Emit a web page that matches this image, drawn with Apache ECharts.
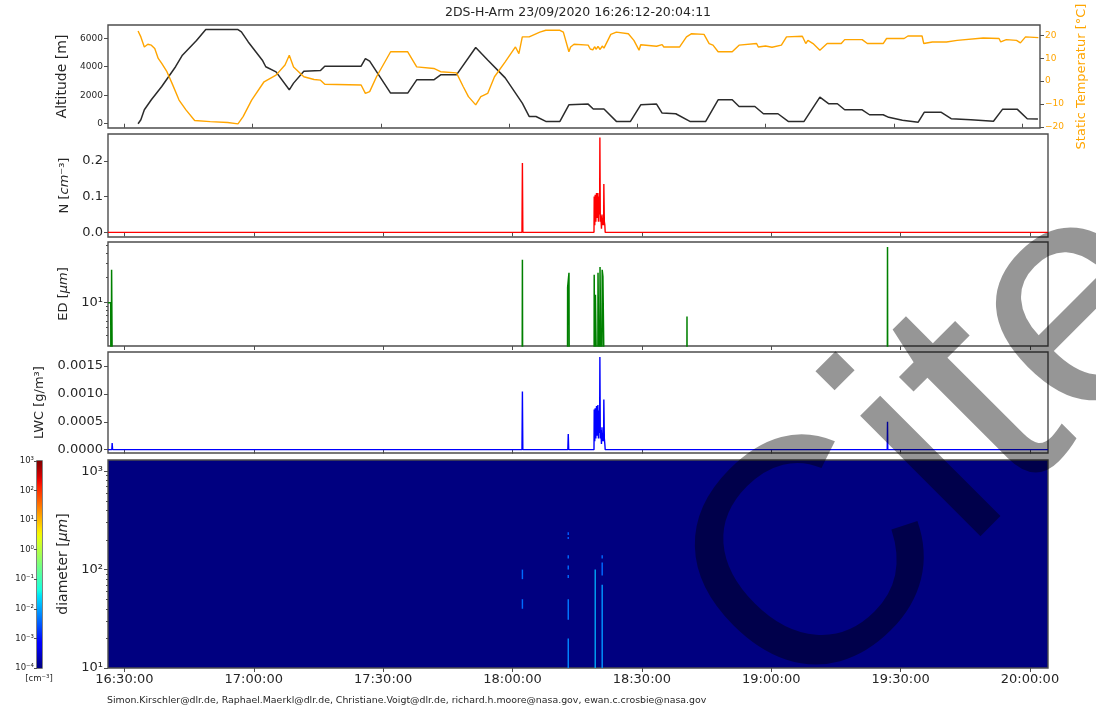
<!DOCTYPE html>
<html>
<head>
<meta charset="utf-8">
<script src="https://cdn.jsdelivr.net/npm/echarts@6/dist/echarts.min.js"></script>
<style>
  html, body { margin: 0; padding: 0; background: #ffffff; }
  #chart { width: 1096px; height: 711px; }
</style>
</head>
<body>
<div id="chart"></div>
<script>
// ---- flight time window and tick marks ----
const TIME_START = '16:26:12';
const TIME_END = '20:04:11';
const TIME_TICKS = ['16:30:00', '17:00:00', '17:30:00', '18:00:00', '18:30:00', '19:00:00', '19:30:00', '20:00:00'];

// ---- aircraft altitude [m] ----
const ALTITUDE = [
  ['16:33:14', 0], ['16:33:53', 280], ['16:34:42', 980], ['16:36:20', 1680], ['16:38:46', 2615],
  ['16:42:00', 4000], ['16:43:36', 4810], ['16:46:54', 5840], ['16:49:04', 6610], ['16:56:36', 6610],
  ['16:57:24', 6450], ['16:59:00', 5740], ['17:02:18', 4460], ['17:03:06', 4000], ['17:05:30', 3640],
  ['17:08:36', 2380], ['17:09:36', 2850], ['17:12:00', 3690], ['17:15:54', 3740], ['17:16:54', 4040],
  ['17:25:24', 4040], ['17:26:24', 4570], ['17:27:24', 4390], ['17:32:18', 2150], ['17:36:18', 2150],
  ['17:38:24', 3080], ['17:42:24', 3080], ['17:44:00', 3430], ['17:47:42', 3430], ['17:52:12', 5350],
  ['17:55:00', 4480], ['17:59:06', 3220], ['18:03:06', 1450], ['18:04:42', 510], ['18:06:18', 510],
  ['18:08:36', 163], ['18:11:54', 163], ['18:14:00', 1330], ['18:18:30', 1378], ['18:19:42', 1030],
  ['18:22:12', 1030], ['18:25:06', 163], ['18:28:24', 163], ['18:30:48', 1330], ['18:34:30', 1378],
  ['18:35:48', 750], ['18:39:00', 700], ['18:42:18', 163], ['18:46:00', 163], ['18:48:54', 1680],
  ['18:52:12', 1680], ['18:53:48', 1210], ['18:57:30', 1210], ['18:59:30', 700], ['19:02:54', 700],
  ['19:05:18', 163], ['19:09:00', 163], ['19:12:42', 1870], ['19:14:48', 1400], ['19:16:48', 1400],
  ['19:18:30', 980], ['19:22:36', 980], ['19:24:18', 630], ['19:27:30', 630], ['19:28:48', 450],
  ['19:32:00', 240], ['19:35:42', 110], ['19:37:06', 800], ['19:41:06', 800], ['19:43:24', 353],
  ['19:48:00', 282], ['19:53:18', 170], ['19:55:24', 1010], ['19:58:54', 1010], ['20:01:12', 353],
  ['20:03:42', 340]
];

// ---- static air temperature [°C] ----
const TEMPERATURE = [
  ['16:33:14', 21.9], ['16:33:53', 19.3], ['16:34:42', 14.9], ['16:35:31', 16.1], ['16:36:20', 15.7],
  ['16:37:08', 14.2], ['16:37:57', 9.9], ['16:38:46', 7.7], ['16:39:59', 4.1], ['16:41:11', -1.0],
  ['16:42:49', -8.3], ['16:44:26', -12.6], ['16:46:28', -17.2], ['16:50:06', -17.7], ['16:54:12', -18.1],
  ['16:56:36', -18.7], ['16:57:48', -15.5], ['16:59:48', -8.3], ['17:02:42', -0.3], ['17:05:30', 2.6],
  ['17:07:36', 7.0], ['17:08:36', 11.3], ['17:09:36', 6.2], ['17:12:00', 1.9], ['17:14:24', 0.7],
  ['17:15:54', 0.4], ['17:16:54', -1.4], ['17:25:24', -1.7], ['17:26:24', -5.4], ['17:27:24', -4.6],
  ['17:29:00', 1.9], ['17:32:18', 12.8], ['17:36:18', 12.8], ['17:38:24', 6.2], ['17:42:24', 5.5],
  ['17:44:00', 4.1], ['17:47:42', 3.6], ['17:49:18', -2.5], ['17:50:30', -6.8], ['17:52:12', -10.4],
  ['17:53:24', -6.8], ['17:55:00', -5.4], ['17:56:36', 1.9], ['17:59:06', 8.4], ['18:01:30', 14.9],
  ['18:02:18', 12.0], ['18:03:06', 19.3], ['18:04:42', 19.3], ['18:05:30', 20.0], ['18:07:12', 21.4],
  ['18:08:36', 22.2], ['18:11:54', 22.2], ['18:12:42', 21.4], ['18:14:00', 12.8], ['18:14:24', 14.9],
  ['18:15:12', 16.1], ['18:18:30', 15.7], ['18:19:00', 14.0], ['18:19:18', 14.6], ['18:19:36', 13.6],
  ['18:20:00', 15.0], ['18:20:24', 13.9], ['18:20:48', 15.2], ['18:21:18', 13.8], ['18:21:48', 15.3],
  ['18:22:12', 14.4], ['18:22:36', 14.9], ['18:23:48', 20.4], ['18:25:06', 21.4], ['18:27:54', 20.7],
  ['18:29:12', 17.8], ['18:30:24', 13.5], ['18:30:48', 15.9], ['18:34:30', 15.2], ['18:35:48', 15.9],
  ['18:36:12', 14.9], ['18:39:54', 14.9], ['18:41:30', 19.3], ['18:42:42', 20.7], ['18:45:36', 20.4],
  ['18:46:48', 16.4], ['18:47:42', 15.7], ['18:48:54', 12.8], ['18:52:12', 12.8], ['18:53:48', 15.7],
  ['18:57:54', 16.4], ['18:58:18', 14.9], ['19:00:00', 15.3], ['19:01:30', 14.8], ['19:03:42', 15.7],
  ['19:04:54', 19.3], ['19:08:36', 19.6], ['19:09:24', 16.4], ['19:09:54', 17.8], ['19:11:06', 16.4],
  ['19:12:42', 13.5], ['19:14:24', 16.4], ['19:17:42', 16.4], ['19:18:30', 18.1], ['19:22:36', 18.1],
  ['19:23:48', 16.4], ['19:27:30', 16.4], ['19:28:18', 18.6], ['19:32:24', 18.6], ['19:33:18', 19.7],
  ['19:36:36', 19.7], ['19:37:00', 16.4], ['19:39:00', 17.1], ['19:42:18', 17.1], ['19:44:48', 17.8],
  ['19:50:54', 18.8], ['19:54:36', 18.6], ['19:55:00', 17.1], ['19:56:18', 18.1], ['19:58:42', 17.8],
  ['19:59:36', 16.7], ['20:00:48', 19.3], ['20:03:48', 19.0]
];

// ---- number concentration N [cm^-3] ----
const NUMBER_CONC = [
  ['16:26:12', 0], ['18:02:12', 0], ['18:02:18', 0.194], ['18:02:24', 0],
  ['18:12:52', 0], ['18:12:56', 0.005], ['18:13:00', 0],
  ['18:18:54', 0], ['18:18:57', 0.10], ['18:19:05', 0.02], ['18:19:11', 0.105], ['18:19:20', 0.03],
  ['18:19:29', 0.11], ['18:19:38', 0.04], ['18:19:48', 0.11], ['18:19:56', 0.03], ['18:20:05', 0.10],
  ['18:20:12', 0.05], ['18:20:16', 0.265], ['18:20:22', 0.03], ['18:20:30', 0.045], ['18:20:38', 0.01],
  ['18:20:45', 0.05], ['18:20:53', 0.02], ['18:21:02', 0.04], ['18:21:08', 0.02], ['18:21:11', 0.135],
  ['18:21:18', 0.03], ['18:21:25', 0.02], ['18:21:30', 0], ['20:04:11', 0]
];

// ---- effective diameter ED [µm] (0 = no particles) ----
const EFF_DIAMETER = [
  ['16:26:12', 10], ['16:26:50', 10], ['16:26:55', 0], ['16:27:02', 25], ['16:27:14', 25], ['16:27:20', 0],
  ['18:02:12', 0], ['18:02:18', 33], ['18:02:24', 0],
  ['18:12:44', 0], ['18:12:47', 15.2], ['18:13:02', 15.2], ['18:13:06', 23], ['18:13:12', 0],
  ['18:18:54', 0], ['18:18:57', 21.7], ['18:19:08', 21.7], ['18:19:11', 0], ['18:19:14', 12.5],
  ['18:19:40', 12.5], ['18:19:45', 0], ['18:19:50', 23], ['18:20:10', 23], ['18:20:14', 0],
  ['18:20:18', 27], ['18:20:38', 27], ['18:20:42', 0], ['18:20:48', 25], ['18:20:58', 20.6],
  ['18:21:25', 20.6], ['18:21:30', 0],
  ['18:40:24', 0], ['18:40:28', 6.8], ['18:40:32', 0],
  ['19:26:54', 0], ['19:26:58', 47], ['19:27:02', 0], ['20:04:11', 0]
];

// ---- liquid water content LWC [g/m^3] ----
const LWC = [
  ['16:26:12', 0], ['16:27:05', 0], ['16:27:10', 0.00012], ['16:27:16', 0],
  ['18:02:12', 0], ['18:02:18', 0.00104], ['18:02:24', 0],
  ['18:12:50', 0], ['18:12:56', 0.00028], ['18:13:02', 0],
  ['18:18:54', 0], ['18:18:57', 0.00072], ['18:19:05', 0.00015], ['18:19:11', 0.00074], ['18:19:20', 0.0002],
  ['18:19:29', 0.00078], ['18:19:38', 0.00025], ['18:19:48', 0.0008], ['18:19:56', 0.0002], ['18:20:05', 0.0007],
  ['18:20:12', 0.0003], ['18:20:16', 0.00166], ['18:20:22', 0.0002], ['18:20:30', 0.00035], ['18:20:38', 0.0001],
  ['18:20:45', 0.0004], ['18:20:53', 0.00015], ['18:21:02', 0.0003], ['18:21:08', 0.00015], ['18:21:11', 0.0009],
  ['18:21:18', 0.0002], ['18:21:25', 0.0001], ['18:21:30', 0],
  ['19:26:54', 0], ['19:26:58', 0.0005], ['19:27:02', 0], ['20:04:11', 0]
];

// ---- size distribution cells: [start, end, d_low µm, d_high µm, log10 dN cm^-3] ----
const SIZE_DIST = [
  ['18:02:08', '18:02:28', 80, 100, -2.4],
  ['18:02:08', '18:02:28', 40, 50, -2.4],
  ['18:12:46', '18:13:06', 225, 240, -2.5],
  ['18:12:46', '18:13:06', 205, 215, -2.5],
  ['18:12:46', '18:13:06', 130, 140, -2.4],
  ['18:12:46', '18:13:06', 100, 110, -2.4],
  ['18:12:46', '18:13:06', 82, 88, -2.4],
  ['18:12:46', '18:13:06', 31, 50, -2.3],
  ['18:12:46', '18:13:06', 10, 20, -2.2],
  ['18:19:02', '18:19:20', 10, 100, -1.9],
  ['18:20:38', '18:20:58', 130, 140, -2.4],
  ['18:20:38', '18:20:58', 87, 118, -2.4],
  ['18:20:38', '18:20:58', 10, 70, -2.1]
];

// ---- axis tick values ----
const ALT_TICKS = [0, 2000, 4000, 6000];
const TEMP_TICKS = [-20, -10, 0, 10, 20];
const N_TICKS = [0, 0.1, 0.2];
const LWC_TICKS = [0, 0.0005, 0.0010, 0.0015];
const ED_TICKS = [10];
const ED_MINOR = [4, 5, 6, 7, 8, 9, 20, 30, 40, 50];
const DIAM_TICKS = [10, 100, 1000];
const DIAM_MINOR = [20, 30, 40, 50, 60, 70, 80, 90, 200, 300, 400, 500, 600, 700, 800, 900];
const CBAR_TICKS = [1e-4, 1e-3, 1e-2, 1e-1, 1, 10, 100, 1000];

// ---- helpers ----
function toSec(s) {
  const p = s.split(':').map(Number);
  return p[0] * 3600 + p[1] * 60 + p[2];
}
function pad(n) { return (n < 10 ? '0' : '') + n; }
function fmtTime(v) {
  const s = Math.round(v);
  return pad(Math.floor(s / 3600)) + ':' + pad(Math.floor(s / 60) % 60) + ':' + pad(s % 60);
}
const SUP = { '-': '⁻', '0': '⁰', '1': '¹', '2': '²', '3': '³', '4': '⁴', '5': '⁵', '6': '⁶', '7': '⁷', '8': '⁸', '9': '⁹' };
function pow10Label(v) {
  const e = String(Math.round(Math.log10(v)));
  return '10' + e.split('').map(c => SUP[c]).join('');
}
function minusSign(v) { return v < 0 ? '−' + Math.abs(v) : String(v); }

// matplotlib "jet" colormap
const JET = {
  r: [[0, 0], [0.35, 0], [0.66, 1], [0.89, 1], [1, 0.5]],
  g: [[0, 0], [0.125, 0], [0.375, 1], [0.64, 1], [0.91, 0], [1, 0]],
  b: [[0, 0.5], [0.11, 1], [0.34, 1], [0.65, 0], [1, 0]]
};
function seg(list, t) {
  for (let i = 1; i < list.length; i++) {
    if (t <= list[i][0]) {
      const a = list[i - 1], b = list[i];
      return a[1] + (b[1] - a[1]) * (t - a[0]) / (b[0] - a[0]);
    }
  }
  return list[list.length - 1][1];
}
function jet(t) {
  t = Math.max(0, Math.min(1, t));
  return 'rgb(' + Math.round(255 * seg(JET.r, t)) + ',' + Math.round(255 * seg(JET.g, t)) + ',' + Math.round(255 * seg(JET.b, t)) + ')';
}
const LOG_MIN = -4, LOG_MAX = 3;

const X_MIN = toSec(TIME_START), X_MAX = toSec(TIME_END);
const TICK_SECS = TIME_TICKS.map(toSec);
const pairs = arr => arr.map(([t, v]) => [toSec(t), v]);

const FONT = 'DejaVu Sans';
const INK = '#262626';
const FRAME = '#4d4d4d';
const ORANGE = '#ffa500';

const LEFT = 108, WIDTH = 940;
const grids = [
  { left: LEFT, top: 25, width: WIDTH, height: 103 },
  { left: LEFT, top: 134, width: WIDTH, height: 103 },
  { left: LEFT, top: 242, width: WIDTH, height: 104 },
  { left: LEFT, top: 352, width: WIDTH, height: 101 },
  { left: LEFT, top: 460, width: WIDTH, height: 208, backgroundColor: '#000080' },
  { left: 37, top: 461, width: 5, height: 207 }
].map(g => Object.assign({ show: true, borderColor: FRAME, borderWidth: 1.4, backgroundColor: 'transparent' }, g));

function timeAxis(i, labels) {
  return {
    type: 'value', gridIndex: i, min: X_MIN, max: X_MAX,
    axisLine: { show: false }, splitLine: { show: false },
    axisTick: { show: true, customValues: TICK_SECS, length: 4, lineStyle: { color: FRAME } },
    axisLabel: {
      show: labels, customValues: TICK_SECS, formatter: fmtTime,
      fontFamily: FONT, fontSize: 13, color: INK, margin: 5
    }
  };
}

function yAxis(o) {
  const ax = {
    type: o.type || 'value', gridIndex: o.grid, min: o.min, max: o.max,
    position: o.position || 'left',
    axisLine: { show: false }, splitLine: { show: false },
    axisTick: { show: true, customValues: o.ticks, length: o.tickLen || 4, lineStyle: { color: FRAME } },
    axisLabel: {
      show: !o.noLabels, customValues: o.ticks, formatter: o.fmt || (v => String(v)),
      fontFamily: FONT, fontSize: o.fontSize || 13, color: o.color || INK, margin: o.margin || 5
    }
  };
  if (o.type === 'log') ax.logBase = 10;
  if (o.name) {
    Object.assign(ax, {
      name: o.name, nameLocation: 'middle', nameGap: o.nameGap, nameRotate: 90,
      nameTextStyle: Object.assign({ fontFamily: FONT, fontSize: o.nameSize || 13, color: o.color || INK }, o.nameStyle || {})
    });
  }
  return ax;
}

const italic = { fontFamily: FONT, fontSize: 13, fontStyle: 'italic', color: INK };
const normal = { fontFamily: FONT, fontSize: 13, color: INK };
const italicL = Object.assign({}, italic, { fontSize: 14 });
const normalL = Object.assign({}, normal, { fontSize: 14 });

const yAxes = [
  yAxis({ grid: 0, min: -300, max: 6930, ticks: ALT_TICKS, fontSize: 9, name: 'Altitude [m]', nameGap: 31, nameSize: 14 }),
  yAxis({ grid: 0, min: -20.5, max: 24.5, ticks: TEMP_TICKS, position: 'right', fontSize: 9, color: ORANGE,
          fmt: minusSign, name: 'Static Temperatur [°C]', nameGap: 35 }),
  yAxis({ grid: 1, min: -0.013, max: 0.275, ticks: N_TICKS, fmt: v => v.toFixed(1),
          name: '{n|N [}{i|cm}{n|⁻³]}', nameGap: 33, nameStyle: { rich: { n: normal, i: italic } } }),
  yAxis({ grid: 2, type: 'log', min: 3, max: 54, ticks: ED_TICKS, fmt: pow10Label,
          name: '{n|ED [}{i|μm}{n|]}', nameGap: 36, nameStyle: { rich: { n: normal, i: italic } } }),
  yAxis({ grid: 2, type: 'log', min: 3, max: 54, ticks: ED_MINOR, tickLen: 2, noLabels: true }),
  yAxis({ grid: 3, min: -0.00006, max: 0.00175, ticks: LWC_TICKS, fmt: v => v.toFixed(4),
          name: 'LWC [g/m³]', nameGap: 56 }),
  yAxis({ grid: 4, type: 'log', min: 10, max: 1300, ticks: DIAM_TICKS, fmt: pow10Label,
          name: '{n|diameter [}{i|μm}{n|]}', nameGap: 35, nameStyle: { rich: { n: normalL, i: italicL } } }),
  yAxis({ grid: 4, type: 'log', min: 10, max: 1300, ticks: DIAM_MINOR, tickLen: 2, noLabels: true }),
  yAxis({ grid: 5, type: 'log', min: 1e-4, max: 1e3, ticks: CBAR_TICKS, fmt: pow10Label, fontSize: 8.5, margin: 3, tickLen: 3 })
];

const xAxes = [0, 1, 2, 3, 4].map(i => timeAxis(i, i === 4));
xAxes.push({ type: 'value', gridIndex: 5, min: 0, max: 1, show: false });

const lineBase = { type: 'line', showSymbol: false, symbol: 'none', clip: true, animation: false };

const series = [
  Object.assign({}, lineBase, { name: 'altitude', xAxisIndex: 0, yAxisIndex: 0, data: pairs(ALTITUDE),
    lineStyle: { color: '#2b2b2b', width: 1.5 } }),
  Object.assign({}, lineBase, { name: 'temperature', xAxisIndex: 0, yAxisIndex: 1, data: pairs(TEMPERATURE),
    lineStyle: { color: ORANGE, width: 1.4 } }),
  Object.assign({}, lineBase, { name: 'N', xAxisIndex: 1, yAxisIndex: 2, data: pairs(NUMBER_CONC),
    lineStyle: { color: '#ff0000', width: 1.4 } }),
  // zero diameters sit far below the log range, so the trace drops out of the frame
  Object.assign({}, lineBase, { name: 'ED', xAxisIndex: 2, yAxisIndex: 3,
    data: pairs(EFF_DIAMETER).map(([t, v]) => [t, v > 0 ? v : 0.1]),
    lineStyle: { color: '#008000', width: 1.5 } }),
  Object.assign({}, lineBase, { name: 'LWC', xAxisIndex: 3, yAxisIndex: 5, data: pairs(LWC),
    lineStyle: { color: '#0000ff', width: 1.4 } }),
  {
    type: 'custom', name: 'size distribution', xAxisIndex: 4, yAxisIndex: 6, clip: true, animation: false,
    data: SIZE_DIST.map(([a, b, lo, hi, c]) => [toSec(a), toSec(b), lo, hi, c]),
    encode: { x: [0, 1], y: [2, 3] },
    renderItem(params, api) {
      const p0 = api.coord([api.value(0), api.value(3)]);
      const p1 = api.coord([api.value(1), api.value(2)]);
      return {
        type: 'rect',
        shape: { x: p0[0], y: p0[1], width: Math.max(p1[0] - p0[0], 1), height: p1[1] - p0[1] },
        style: { fill: jet((api.value(4) - LOG_MIN) / (LOG_MAX - LOG_MIN)) }
      };
    }
  },
  {
    type: 'custom', name: 'colorbar', xAxisIndex: 5, yAxisIndex: 8, animation: false,
    data: [[0, 1, 1e-4, 1e3]],
    encode: { x: [0, 1], y: [2, 3] },
    renderItem(params, api) {
      const p0 = api.coord([api.value(0), api.value(3)]);
      const p1 = api.coord([api.value(1), api.value(2)]);
      const stops = [];
      for (let k = 0; k <= 40; k++) stops.push({ offset: k / 40, color: jet(k / 40) });
      return {
        type: 'rect',
        shape: { x: p0[0], y: p0[1], width: p1[0] - p0[0], height: p1[1] - p0[1] },
        style: { fill: new echarts.graphic.LinearGradient(0, 1, 0, 0, stops) }
      };
    }
  }
];

const graphic = [
  { type: 'text', x: LEFT + WIDTH / 2, y: 13, silent: true,
    style: { text: '2DS-H-Arm 23/09/2020 16:26:12-20:04:11', fill: INK, font: '12.5px "DejaVu Sans"',
             align: 'center', verticalAlign: 'middle' } },
  { type: 'text', x: 107, y: 701, silent: true,
    style: { text: 'Simon.Kirschler@dlr.de, Raphael.Maerkl@dlr.de, Christiane.Voigt@dlr.de, richard.h.moore@nasa.gov, ewan.c.crosbie@nasa.gov',
             fill: INK, font: '9.4px "DejaVu Sans"', align: 'left', verticalAlign: 'middle' } },
  { type: 'text', x: 39, y: 679, silent: true,
    style: { text: '[cm⁻³]', fill: INK, font: '8.5px "DejaVu Sans"', align: 'center', verticalAlign: 'middle' } },
  // translucent "Cite" watermark across the lower right
  { type: 'text', x: 738, y: 653, rotation: Math.PI / 4, silent: true, z: 100,
    style: { text: 'Cite', fill: 'rgba(0,0,0,0.41)', font: '322px "Liberation Sans"', align: 'left', verticalAlign: 'middle' } }
];

const chart = echarts.init(document.getElementById('chart'), null, { renderer: 'canvas' });
chart.setOption({
  animation: false,
  backgroundColor: '#ffffff',
  grid: grids,
  xAxis: xAxes,
  yAxis: yAxes,
  series: series,
  graphic: graphic
});
</script>
</body>
</html>
